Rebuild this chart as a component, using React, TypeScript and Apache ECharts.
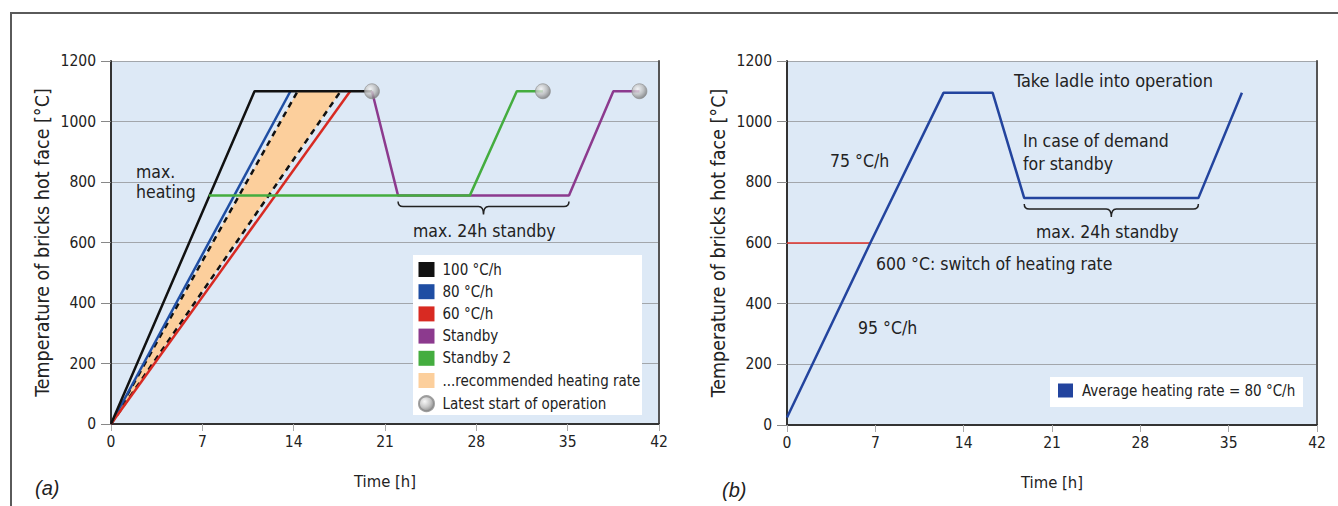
import React, { useEffect, useRef } from "react";
import * as echarts from "echarts";

// ---- (a) heating curves, time in h, temperature in °C ----
const rate100 = [[0, 0], [11, 1100], [20, 1100]];
const rate80 = [[0, 0], [13.75, 1100]];
const rate60 = [[0, 0], [18.33, 1100]];
const bandUpper = [[0, 0], [14.3, 1100]];
const bandLower = [[0, 0], [17.6, 1100]];
const bandPolygon = [[0, 0], [14.3, 1100], [17.6, 1100]];
const standby = [[20, 1100], [22, 755], [35.1, 755], [38.5, 1100], [40.5, 1100]];
const standby2 = [[7.5, 755], [27.5, 755], [31.1, 1100], [33.1, 1100]];
const latestStart = [[20, 1100], [33.1, 1100], [40.5, 1100]];
const braceA = [[22, 35.1, 755]];

// ---- (b) ladle preheating schedule ----
const ladleCurve = [[0, 25], [6.6, 600], [12.4, 1095], [16.3, 1095], [18.8, 748], [32.6, 748], [36.05, 1095]];
const switchLine = [[0, 600], [6.6, 600]];
const braceB = [[18.8, 32.6, 748]];

const legendA = ["100 °C/h", "80 °C/h", "60 °C/h", "Standby", "Standby 2", "...recommended heating rate", "Latest start of operation"];
const legendB = ["Average heating rate = 80 °C/h"];

const FONT = "'Liberation Sans Narrow', 'DejaVu Sans Condensed', 'Roboto', sans-serif";
const TXT = "#222";
const ANN = 17.5;

const C = {
  black: "#111111",
  blue: "#1f4ea3",
  red: "#d82a22",
  purple: "#8c3a8e",
  green: "#44ad3f",
  orange: "#fccf9c",
  lineBlue: "#23449e",
};

function braceRender(params: any, api: any) {
  const p1 = api.coord([api.value(0), api.value(2)]);
  const p2 = api.coord([api.value(1), api.value(2)]);
  const x1 = p1[0];
  const x2 = p2[0];
  const y0 = p1[1] + 6;
  const ym = y0 + 5;
  const mid = (x1 + x2) / 2;
  const r = 5;
  const d =
    `M${x1} ${y0} Q${x1} ${ym} ${x1 + r} ${ym} L${mid - r} ${ym} Q${mid} ${ym} ${mid} ${ym + 8} ` +
    `Q${mid} ${ym} ${mid + r} ${ym} L${x2 - r} ${ym} Q${x2} ${ym} ${x2} ${y0}`;
  return {
    type: "path",
    shape: { pathData: d },
    style: { fill: "none", stroke: "#222", lineWidth: 1.5 },
  };
}

function bandRender(params: any, api: any) {
  if (params.dataIndex !== 0) return null;
  const pts = bandPolygon.map((p) => api.coord(p));
  return {
    type: "polygon",
    shape: { points: pts },
    style: { fill: C.orange, stroke: "none" },
  };
}

function xAxisCfg(gridIndex: number) {
  return {
    gridIndex,
    type: "value",
    min: 0,
    max: 42,
    interval: 7,
    name: "Time [h]",
    nameLocation: "middle",
    nameGap: 49,
    nameTextStyle: { fontFamily: FONT, fontSize: 16.5, color: TXT },
    axisLine: { lineStyle: { color: "#333", width: 2 } },
    axisTick: { length: 7, lineStyle: { color: "#aaa" } },
    axisLabel: { fontFamily: FONT, fontSize: 15.5, color: TXT, margin: 10 },
    splitLine: { show: false },
  };
}

function yAxisCfg(gridIndex: number) {
  return {
    gridIndex,
    type: "value",
    min: 0,
    max: 1200,
    interval: 200,
    name: "Temperature of bricks hot face [°C]",
    nameLocation: "middle",
    nameGap: 59,
    nameTextStyle: { fontFamily: FONT, fontSize: 19.5, color: TXT },
    axisLine: { show: true, lineStyle: { color: "#333", width: 2 } },
    axisTick: { show: true, length: 10, lineStyle: { color: "#888" } },
    axisLabel: {
      fontFamily: FONT,
      fontSize: 15.5,
      color: TXT,
      margin: 15,
      formatter: (v: number) => String(v),
    },
    splitLine: { show: true, lineStyle: { color: "#a2a6ab", width: 1.2 } },
  };
}

function borderAxis(gridIndex: number) {
  return {
    gridIndex,
    type: "value",
    min: 0,
    max: 1200,
    position: "right",
    axisLine: { show: true, lineStyle: { color: "#555", width: 2 } },
    axisTick: { show: false },
    axisLabel: { show: false },
    splitLine: { show: false },
  };
}

function lineSeries(name: string, data: number[][], color: string, extra: any = {}) {
  return {
    type: "line",
    name,
    data,
    xAxisIndex: 0,
    yAxisIndex: 0,
    symbol: "none",
    clip: false,
    color,
    itemStyle: { color },
    lineStyle: { color, width: 2.5 },
    z: 3,
    ...extra,
  };
}

function textEl(text: string, x: number, y: number, size: number, extra: any = {}) {
  return {
    type: "text",
    x,
    y,
    z: 10,
    style: {
      text,
      fontFamily: FONT,
      fontSize: size,
      fill: TXT,
      verticalAlign: "middle",
      lineHeight: size + 2,
      ...extra,
    },
  };
}

export default function App() {
  const ref = useRef<HTMLDivElement>(null);

  useEffect(() => {
    if (!ref.current) return;
    const chart = echarts.init(ref.current, undefined, { renderer: "svg" });

    const sphere = new echarts.graphic.RadialGradient(0.38, 0.35, 0.7, [
      { offset: 0, color: "#f6f6f6" },
      { offset: 0.55, color: "#b9b9b9" },
      { offset: 1, color: "#6f6f6f" },
    ]);

    const option: any = {
      animation: false,
      backgroundColor: "#ffffff",
      grid: [
        { left: 111, top: 61, width: 548, height: 363, show: true, backgroundColor: "#dde9f6", borderWidth: 0 },
        { left: 787, top: 61, width: 530, height: 364, show: true, backgroundColor: "#dde9f6", borderWidth: 0 },
      ],
      xAxis: [xAxisCfg(0), xAxisCfg(1)],
      yAxis: [yAxisCfg(0), yAxisCfg(1), borderAxis(0), borderAxis(1)],
      legend: [
        {
          data: legendA.map((n) =>
            n === "Latest start of operation" ? { name: n, icon: "circle" } : { name: n, icon: "rect" }
          ),
          orient: "vertical",
          left: 418,
          top: 262,
          padding: 0,
          itemWidth: 16,
          itemHeight: 15,
          itemGap: 7.2,
          selectedMode: false,
          textStyle: { fontFamily: FONT, fontSize: 15, color: TXT, lineHeight: 15, padding: [0, 0, 0, 3] },
          z: 12,
        },
        {
          data: legendB.map((n) => ({ name: n, icon: "rect" })),
          orient: "vertical",
          left: 1058,
          top: 383,
          padding: 0,
          itemWidth: 15,
          itemHeight: 14,
          selectedMode: false,
          textStyle: { fontFamily: FONT, fontSize: 15, color: TXT, padding: [0, 0, 0, 4] },
          z: 12,
        },
      ],
      graphic: [
        // outer frame
        { type: "rect", shape: { x: 11, y: 13, width: 1340, height: 510 }, style: { fill: "none", stroke: "#5a5a5a", lineWidth: 2 }, z: 1 },
        // legend boxes
        { type: "rect", shape: { x: 413, y: 255, width: 229, height: 160 }, style: { fill: "#ffffff" }, z: 5 },
        { type: "rect", shape: { x: 1050, y: 377, width: 253, height: 30 }, style: { fill: "#ffffff" }, z: 5 },
        // (a) annotations
        textEl("max.\nheating", 136, 182, ANN, { lineHeight: 20 }),
        textEl("max. 24h standby", 413, 231, ANN),
        // (b) annotations
        textEl("Take ladle into operation", 1014, 80, 18),
        textEl("In case of demand\nfor standby", 1023, 152, ANN, { lineHeight: 23 }),
        textEl("75 °C/h", 830, 161, ANN),
        textEl("max. 24h standby", 1036, 232, ANN),
        textEl("600 °C: switch of heating rate", 876, 264, ANN),
        textEl("95 °C/h", 858, 328, ANN),
        // panel tags
        textEl("(a)", 35, 488, 20, { fontStyle: "italic", fontFamily: "'Liberation Sans', Arial, sans-serif" }),
        textEl("(b)", 722, 490, 20, { fontStyle: "italic", fontFamily: "'Liberation Sans', Arial, sans-serif" }),
      ],
      series: [
        {
          type: "custom",
          name: "...recommended heating rate",
          xAxisIndex: 0,
          yAxisIndex: 0,
          data: bandPolygon,
          renderItem: bandRender,
          color: C.orange,
          itemStyle: { color: C.orange },
          clip: false,
          z: 2,
        },
        lineSeries("upper", bandUpper, C.black, { lineStyle: { color: C.black, width: 2.5, type: [6, 5] } }),
        lineSeries("lower", bandLower, C.black, { lineStyle: { color: C.black, width: 2.5, type: [6, 5] } }),
        lineSeries("80 °C/h", rate80, C.blue),
        lineSeries("60 °C/h", rate60, C.red),
        lineSeries("100 °C/h", rate100, C.black),
        lineSeries("Standby", standby, C.purple),
        lineSeries("Standby 2", standby2, C.green),
        {
          type: "custom",
          name: "braceA",
          xAxisIndex: 0,
          yAxisIndex: 0,
          data: braceA,
          renderItem: braceRender,
          clip: false,
          z: 4,
        },
        {
          type: "scatter",
          name: "Latest start of operation",
          xAxisIndex: 0,
          yAxisIndex: 0,
          data: latestStart,
          symbol: "circle",
          symbolSize: 15,
          color: sphere,
          itemStyle: { color: sphere, borderColor: "#8a8a8a", borderWidth: 0.8 },
          z: 6,
        },
        // (b)
        {
          type: "line",
          name: "switch",
          xAxisIndex: 1,
          yAxisIndex: 1,
          data: switchLine,
          symbol: "none",
          clip: false,
          lineStyle: { color: "#e0302a", width: 1.5 },
          z: 3,
        },
        {
          type: "line",
          name: "Average heating rate = 80 °C/h",
          xAxisIndex: 1,
          yAxisIndex: 1,
          data: ladleCurve,
          symbol: "none",
          clip: false,
          color: C.lineBlue,
          itemStyle: { color: C.lineBlue },
          lineStyle: { color: C.lineBlue, width: 2.5 },
          z: 4,
        },
        {
          type: "custom",
          name: "braceB",
          xAxisIndex: 1,
          yAxisIndex: 1,
          data: braceB,
          renderItem: braceRender,
          clip: false,
          z: 4,
        },
      ],
    };

    chart.setOption(option);
    return () => chart.dispose();
  }, []);

  return (
    <div
      ref={ref}
      style={{ position: "absolute", left: 0, top: 0, width: 1338, height: 506, background: "#fff" }}
    />
  );
}
